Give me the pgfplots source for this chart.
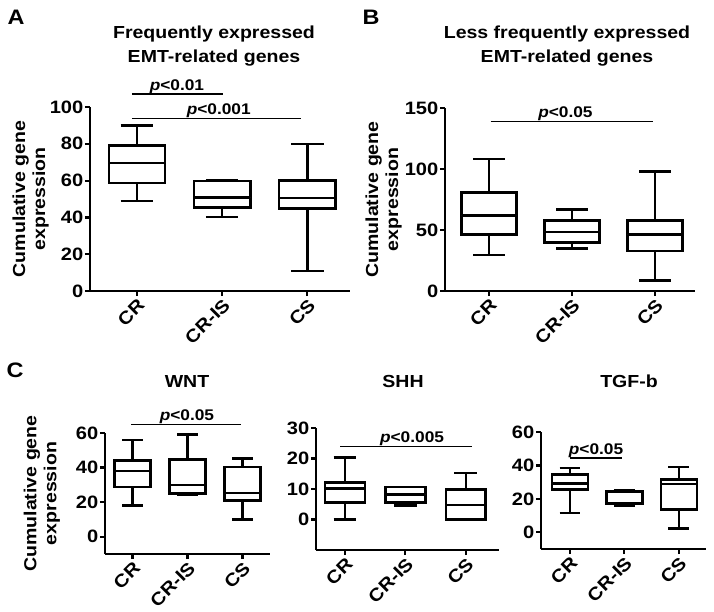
\documentclass[border=0pt]{standalone}
\usepackage{fontspec}
\setmainfont{Liberation Sans}[FakeStretch=1.12,
  UprightFeatures={FakeStretch=1.12},
  BoldFeatures={FakeStretch=1.12},
  ItalicFeatures={FakeStretch=1.12},
  BoldItalicFeatures={FakeStretch=1.12}]
\usepackage{pgfplots}
\pgfplotsset{compat=1.18}
\usepgfplotslibrary{statistics}

\newcommand{\tickfont}{\bfseries\fontsize{18}{20}\selectfont}
\newcommand{\labfont}{\bfseries\fontsize{17.5}{20}\selectfont}
\newcommand{\titfont}{\bfseries\fontsize{17.5}{24}\selectfont}
\newcommand{\pfont}{\bfseries\fontsize{15.5}{17}\selectfont}
\newcommand{\letfont}{\bfseries\fontsize{21}{24}\selectfont}

\pgfplotsset{
  emt/.style={
    scale only axis,
    axis lines=left,
    axis line style={-, line width=2.6bp},
    tick style={line width=2.2bp, black},
    tick align=outside,
    major tick length=5bp,
    xtick={0,1,2},
    xticklabels={CR,CR-IS,CS},
    x tick label style={rotate=45, anchor=north east, inner sep=1bp},
    y tick label style={inner sep=1.5bp},
    tick label style={font=\tickfont},
    /pgf/number format/assume math mode=true,
    label style={font=\labfont},
    ylabel style={align=center},
    clip=false,
    boxplot/draw direction=y,
    boxplot/box extend=0.66,
    boxplot/whisker extend=0.38,
    anchor=south west,
  },
  bx/.style={draw=black, fill=white, line width=2.5bp, solid, mark=none},
  pl/.style={black, line width=1.3bp, mark=none},
}

\begin{document}
\begin{tikzpicture}
\useasboundingbox (0,0) rectangle (714bp,-612bp);

% Panel letters and titles
\node[font=\letfont] at (16bp,-17.5bp) {A};
\node[font=\letfont] at (371bp,-17.5bp) {B};
\node[font=\letfont] at (15bp,-370bp) {C};
\node[font=\titfont, align=center] at (214bp,-46bp) {Frequently expressed\\EMT-related genes};
\node[font=\titfont, align=center] at (567bp,-46bp) {Less frequently expressed\\EMT-related genes};
\node[font=\titfont] at (187bp,-381bp) {WNT};
\node[font=\titfont] at (403bp,-381bp) {SHH};
\node[font=\titfont] at (629bp,-381bp) {TGF-b};

% ---------------- Panel A ----------------
\begin{axis}[emt, at={(90bp,-291bp)}, width=260bp, height=184bp,
  xmin=-0.55, xmax=2.5, ymin=0, ymax=100, ytick={0,20,40,60,80,100},
  ylabel={Cumulative gene\\expression}, ylabel style={yshift=-4bp}]
\addplot[bx, boxplot prepared={draw position=0, lower whisker=48.9, lower quartile=58.7, median=69.7, upper quartile=79, upper whisker=89.9}] coordinates {};
\addplot[bx, boxplot prepared={draw position=1, lower whisker=40.3, lower quartile=45.3, median=50.9, upper quartile=59.7, upper whisker=60.1}] coordinates {};
\addplot[bx, boxplot prepared={draw position=2, lower whisker=11.0, lower quartile=44.9, median=50.5, upper quartile=60.1, upper whisker=79.8}] coordinates {};
\addplot[pl] coordinates {(-0.06,107) (1.01,107)};
\addplot[pl] coordinates {(-0.06,93.7) (1.93,93.7)};
\node[font=\pfont, anchor=base, yshift=4bp] at (axis cs:0.47,107) {\textit{p}<0.01};
\node[font=\pfont, anchor=base, yshift=4bp] at (axis cs:0.96,93.7) {\textit{p}<0.001};
\end{axis}

% ---------------- Panel B ----------------
\begin{axis}[emt, at={(445bp,-291bp)}, width=250bp, height=183bp,
  xmin=-0.53, xmax=2.48, ymin=0, ymax=150, ytick={0,50,100,150},
  ylabel={Cumulative gene\\expression}, ylabel style={yshift=-2bp}]
\addplot[bx, boxplot prepared={draw position=0, lower whisker=29.5, lower quartile=46.4, median=62, upper quartile=80.9, upper whisker=108.2}] coordinates {};
\addplot[bx, boxplot prepared={draw position=1, lower whisker=35, lower quartile=39.6, median=48.4, upper quartile=57.7, upper whisker=66.7}] coordinates {};
\addplot[bx, boxplot prepared={draw position=2, lower whisker=8.7, lower quartile=32.8, median=46.2, upper quartile=57.9, upper whisker=97.8}] coordinates {};
\addplot[pl] coordinates {(0.02,138.8) (1.97,138.8)};
\node[font=\pfont, anchor=base, yshift=4bp] at (axis cs:0.92,138.8) {\textit{p}<0.05};
\end{axis}

% ---------------- Panel C: WNT ----------------
\begin{axis}[emt, at={(105bp,-554bp)}, width=165bp, height=121bp,
  xmin=-0.5, xmax=2.5, ymin=-10, ymax=60, ytick={0,20,40,60},
  ylabel={Cumulative gene\\expression}, ylabel style={yshift=11bp}]
\addplot[bx, boxplot prepared={draw position=0, lower whisker=18.1, lower quartile=28.7, median=37.9, upper quartile=44.2, upper whisker=56}] coordinates {};
\addplot[bx, boxplot prepared={draw position=1, lower whisker=24.4, lower quartile=25, median=30, upper quartile=44.8, upper whisker=59}] coordinates {};
\addplot[bx, boxplot prepared={draw position=2, lower whisker=10, lower quartile=21.1, median=25.4, upper quartile=40.4, upper whisker=45.2}] coordinates {};
\addplot[pl] coordinates {(-0.02,64.8) (1.98,64.8)};
\node[font=\pfont, anchor=base, yshift=4bp] at (axis cs:0.99,64.8) {\textit{p}<0.05};
\end{axis}

% ---------------- Panel C: SHH ----------------
\begin{axis}[emt, at={(316bp,-550bp)}, width=183bp, height=122bp,
  xmin=-0.48, xmax=2.55, ymin=-10, ymax=30, ytick={0,10,20,30}]
\addplot[bx, boxplot prepared={draw position=0, lower whisker=0, lower quartile=5.5, median=10.1, upper quartile=12.1, upper whisker=20.4}] coordinates {};
\addplot[bx, boxplot prepared={draw position=1, lower whisker=4.6, lower quartile=5.5, median=8.2, upper quartile=10.7, upper whisker=10.7}] coordinates {};
\addplot[bx, boxplot prepared={draw position=2, lower whisker=0, lower quartile=0, median=4.7, upper quartile=9.8, upper whisker=15.3}] coordinates {};
\addplot[pl] coordinates {(-0.08,24) (2.1,24)};
\node[font=\pfont, anchor=base, yshift=4bp] at (axis cs:1.11,24) {\textit{p}<0.005};
\end{axis}

% ---------------- Panel C: TGF-b ----------------
\begin{axis}[emt, at={(541bp,-549bp)}, width=165bp, height=117bp,
  xmin=-0.53, xmax=2.5, ymin=-10, ymax=60, ytick={0,20,40,60}]
\addplot[bx, boxplot prepared={draw position=0, lower whisker=11.6, lower quartile=25.5, median=29.3, upper quartile=34.5, upper whisker=38.6}] coordinates {};
\addplot[bx, boxplot prepared={draw position=1, lower whisker=16, lower quartile=16.9, median=17.5, upper quartile=24.5, upper whisker=25.3}] coordinates {};
\addplot[bx, boxplot prepared={draw position=2, lower whisker=2.2, lower quartile=13.6, median=28.9, upper quartile=31.5, upper whisker=39.1}] coordinates {};
\addplot[pl] coordinates {(0,44.4) (0.95,44.4)};
\node[font=\pfont, anchor=base, yshift=4bp] at (axis cs:0.48,44.4) {\textit{p}<0.05};
\end{axis}
\end{tikzpicture}
\end{document}
